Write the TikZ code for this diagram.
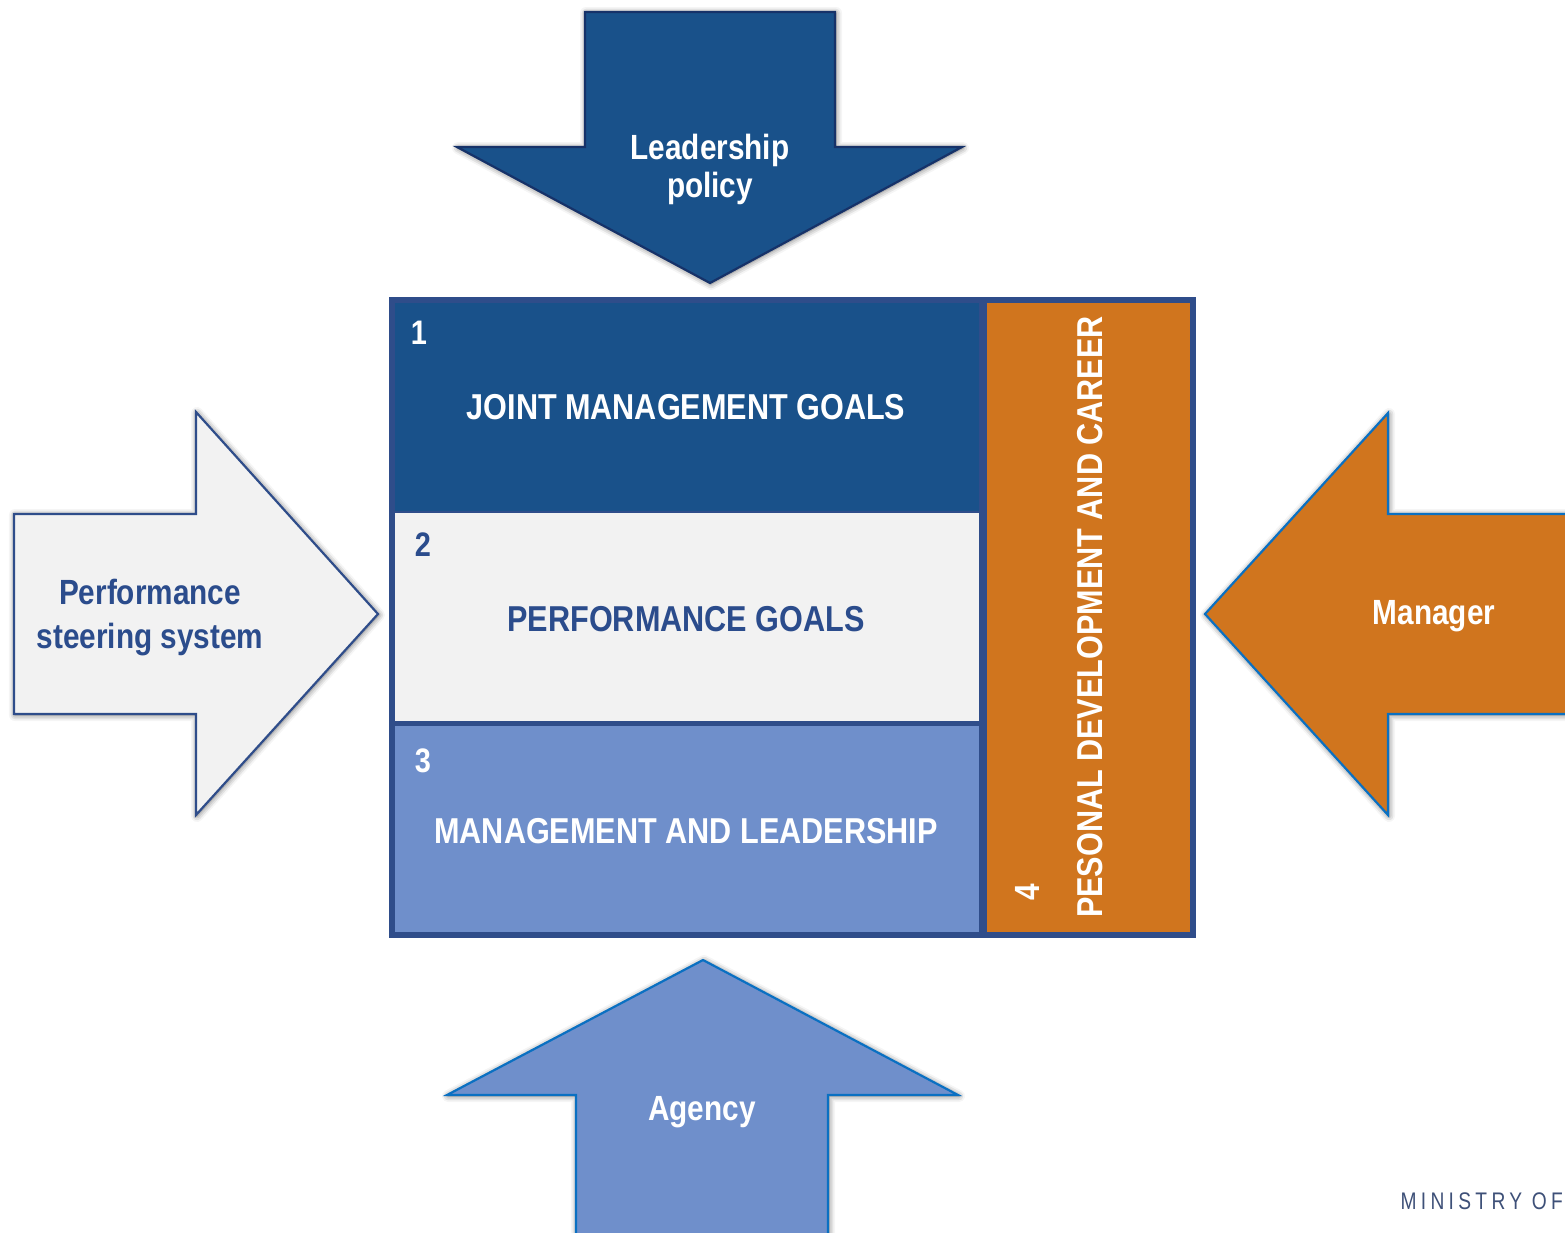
\documentclass[tikz,border=0pt]{standalone}
\usepackage{fontspec}
\setmainfont[FakeStretch=0.85]{Liberation Sans}
\newfontfamily\mintext[FakeStretch=0.8,LetterSpace=18]{Liberation Sans}
\usetikzlibrary{shadows.blur}

\definecolor{deepblue}{RGB}{25,81,138}
\definecolor{navyline}{RGB}{47,77,138}
\definecolor{darkline}{RGB}{22,50,105}
\definecolor{paleblock}{RGB}{242,242,242}
\definecolor{midblue}{RGB}{111,143,203}
\definecolor{amber}{RGB}{208,117,30}
\definecolor{brightline}{RGB}{10,112,194}
\definecolor{navytext}{RGB}{43,76,140}
\definecolor{mintcolor}{RGB}{62,80,120}

\tikzset{
  glow/.style={blur shadow={shadow xshift=1pt, shadow yshift=-1pt,
      shadow blur radius=6pt, shadow opacity=60}},
  arrowshape/.style={line width=2.2pt, line join=miter, glow},
  blocklabel/.style={inner sep=0pt, font=\bfseries\fontsize{36}{40}\selectfont},
  numlabel/.style={inner sep=0pt, font=\bfseries\fontsize{34}{38}\selectfont},
  arrowlabel/.style={inner sep=0pt, align=center,
      font=\bfseries\fontsize{35}{38}\selectfont},
}

\begin{document}
\begin{tikzpicture}[x=1pt,y=-1pt]
\useasboundingbox (0,0) rectangle (1565,1232);
\clip (0,0) rectangle (1565,1232);

% incoming arrows
\draw[arrowshape, fill=deepblue, draw=darkline]
  (585,12) -- (835,12) -- (835,147) -- (962,147) -- (710,283)
  -- (457,147) -- (585,147) -- cycle;
\draw[arrowshape, fill=paleblock, draw=navyline]
  (14,514) -- (196,514) -- (196,412) -- (378,614) -- (196,815)
  -- (196,714) -- (14,714) -- cycle;
\draw[arrowshape, fill=amber, draw=brightline]
  (1620,514) -- (1388,514) -- (1388,413) -- (1205,614) -- (1388,815)
  -- (1388,714) -- (1620,714) -- cycle;
\draw[arrowshape, fill=midblue, draw=brightline]
  (576,1280) -- (576,1095) -- (447,1095) -- (703,960) -- (958,1095)
  -- (828,1095) -- (828,1280) -- cycle;

% central block
\fill[deepblue] (392,300) rectangle (983,512);
\fill[paleblock] (392,512) rectangle (983,723);
\fill[midblue] (392,723) rectangle (983,935);
\fill[amber] (983,300) rectangle (1193,935);
\draw[navyline, line width=2pt] (392,512) -- (983,512);
\draw[navyline, line width=5pt] (392,723) -- (983,723);
\draw[navyline, line width=8pt] (983,300) -- (983,935);
\draw[navyline, line width=5.5pt] (392,300) rectangle (1193,935);

% block texts
\node[numlabel, text=white] (n1) at (419,333) {1};
\node[blocklabel, text=white] (g1) at (686,407) {JOINT MANAGEMENT GOALS};
\node[numlabel, text=navytext] (n2) at (423,545) {2};
\node[blocklabel, text=navytext] (g2) at (686,619) {PERFORMANCE GOALS};
\node[numlabel, text=white] (n3) at (423,761) {3};
\node[blocklabel, text=white] (g3) at (686,831) {MANAGEMENT AND LEADERSHIP};
\node[numlabel, text=white, rotate=90, font=\bfseries\fontsize{35}{38}\selectfont] (n4) at (1027,892) {4};
\node[blocklabel, text=white, rotate=90] (g4) at (1090,617) {PESONAL DEVELOPMENT AND CAREER};

% arrow texts
\node[arrowlabel, text=white] (lp) at (710,169) {Leadership\\policy};
\node[arrowlabel, text=navytext, font=\bfseries\fontsize{35}{44}\selectfont]
  (ps) at (150,618) {Performance\\steering system};
\node[arrowlabel, text=white] (mg) at (1434,616) {Manager};
\node[arrowlabel, text=white] (ag) at (702,1112) {Agency};

% footer
\node[inner sep=0pt, anchor=east, text=mintcolor,
      font=\mintext\fontsize{24}{26}\selectfont] (ministry) at (1563,1201) {MINISTRY OF};
\end{tikzpicture}
\end{document}
